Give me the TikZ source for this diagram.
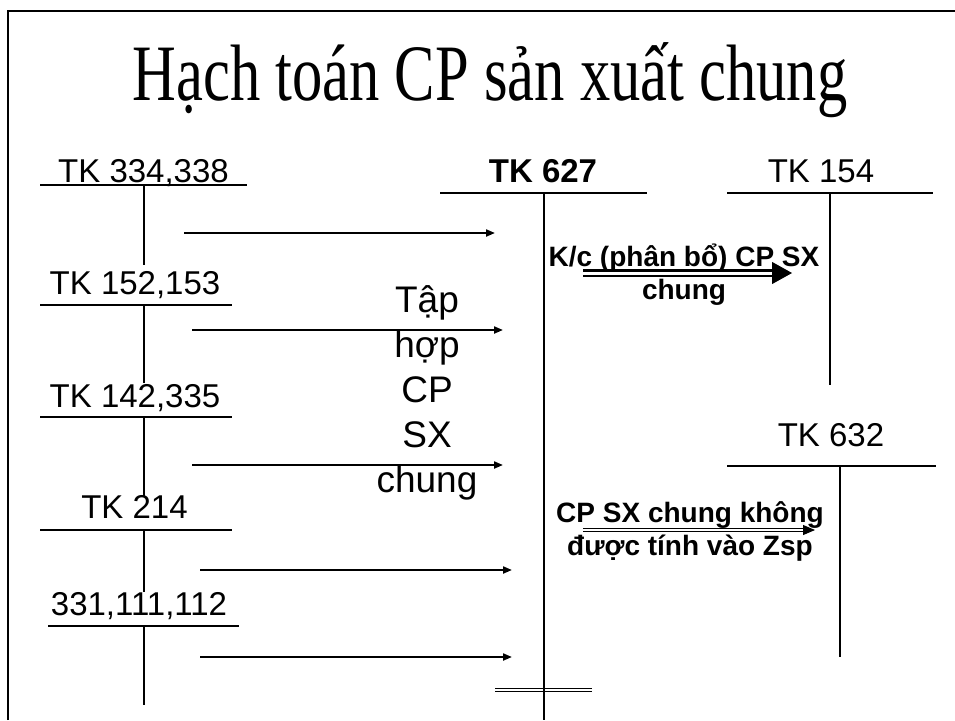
\documentclass[tikz,border=0pt]{standalone}
\usepackage{fontspec}
\setmainfont{Liberation Serif}
\setsansfont{Liberation Sans}
\usetikzlibrary{arrows.meta, positioning, calc}
\tikzset{
  ttl/.style={font=\rmfamily\fontsize{80}{80}\selectfont, anchor=base, inner sep=0pt},
  acc/.style={font=\sffamily\fontsize{33}{36}\selectfont, anchor=base, inner sep=0pt},
  accb/.style={acc, font=\sffamily\bfseries\fontsize{33}{36}\selectfont},
  grp/.style={font=\sffamily\fontsize{37}{45}\selectfont, align=center, anchor=base, inner sep=0pt},
  note/.style={font=\sffamily\bfseries\fontsize{28}{33}\selectfont, align=center, anchor=base, inner sep=0pt},
  frame/.style={line width=2.5pt},
  tline/.style={line width=2pt},
  fl/.style={-{Triangle[length=9pt, width=7pt]}, line width=2pt},
  kdbl/.style={double, double distance=3pt, line width=2.5pt},
  tdbl/.style={double, double distance=2.5pt, line width=1.2pt},
  bigtip/.style={-{Triangle[length=20pt, width=22pt]}, line width=1pt},
  smalltip/.style={-{Triangle[length=12pt, width=10pt]}, line width=1pt},
}
\begin{document}
\begin{tikzpicture}[x=1pt, y=-1pt]
  \useasboundingbox (0,0) rectangle (955,720);
  \draw[frame] (8,720) -- (8,11) -- (955,11);
  \node[ttl] (title) at (490,100) {\scalebox{0.757}[1]{Hạch toán CP sản xuất chung}};

  % tai khoan ben trai
  \node[acc] (t334) at (143.5,182) {TK 334,338};
  \node[acc] (t152) at (135,294) {TK 152,153};
  \node[acc] (t142) at (135,407) {TK 142,335};
  \node[acc] (t214) at (134.5,518) {TK 214};
  \node[acc] (t331) at (139,615) {331,111,112};
  \draw[tline] (40,185) -- (247,185) (144,185) -- (144,265);
  \draw[tline] (40,305) -- (232,305) (144,305) -- (144,383);
  \draw[tline] (40,417) -- (232,417) (144,417) -- (144,497);
  \draw[tline] (40,530) -- (232,530) (144,530) -- (144,592);
  \draw[tline] (48,626) -- (239,626) (144,626) -- (144,705);

  % tai khoan ben phai
  \node[accb] (t627) at (543,182) {TK 627};
  \node[acc] (t154) at (821,182) {TK 154};
  \node[acc] (t632) at (831,446) {TK 632};
  \coordinate (z1) at (495,690);
  \coordinate (z2) at (592,690);
  \draw[tdbl] (z1) -- (z2);
  \draw[tline] (440,193) -- (647,193) (544,193) -- (544,720);
  \draw[tline] (727,193) -- (933,193) (830,193) -- (830,385);
  \draw[tline] (727,466) -- (936,466) (840,466) -- (840,657);

  % tap hop
  \coordinate (a1) at (184,233); \coordinate (b1) at (495,233);
  \coordinate (a2) at (192,330); \coordinate (b2) at (503,330);
  \coordinate (a3) at (192,465); \coordinate (b3) at (503,465);
  \coordinate (a4) at (200,570); \coordinate (b4) at (512,570);
  \coordinate (a5) at (200,657); \coordinate (b5) at (512,657);
  \draw[fl] (a1) -- (b1);
  \draw[fl] (a2) -- (b2);
  \draw[fl] (a3) -- (b3);
  \draw[fl] (a4) -- (b4);
  \draw[fl] (a5) -- (b5);
  \node[grp] (taphop) at (427,492) {Tập\\hợp\\CP\\SX\\chung};

  % ket chuyen
  \node[note] (kc) at (684,299) {K/c (phân bổ) CP SX\\chung};
  \coordinate (k1) at (583,273); \coordinate (k2) at (776,273); \coordinate (k3) at (792,273);
  \draw[kdbl] (k1) -- (k2);
  \draw[bigtip] ($(k3)+(-20,0)$) -- (k3);
  \node[note] (khong) at (690,555) {CP SX chung không\\được tính vào Zsp};
  \coordinate (m1) at (583,530); \coordinate (m2) at (806,530); \coordinate (m3) at (815,530);
  \draw[tdbl] (m1) -- (m2);
  \draw[smalltip] ($(m3)+(-12,0)$) -- (m3);
\end{tikzpicture}
\end{document}
